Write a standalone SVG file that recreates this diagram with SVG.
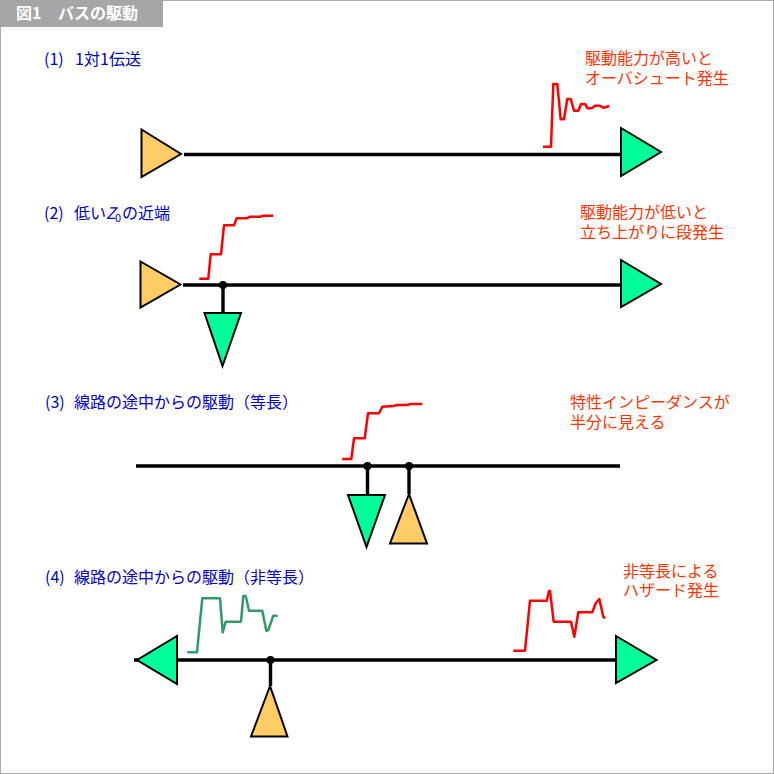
<svg xmlns="http://www.w3.org/2000/svg" width="774" height="774" viewBox="0 0 774 774">
<style>
text{font-family:"Noto Sans CJK JP","DejaVu Sans",sans-serif;font-size:16px}
.h{fill:#0000c0}.r{fill:#ff3300}
.t{font-weight:bold;fill:#fff;font-size:16px}
.b{stroke:#000;stroke-width:3.400;fill:none}
.o{fill:#ffcc66;stroke:#000;stroke-width:2}
.g{fill:#00ff99;stroke:#000;stroke-width:2}
.w{fill:none;stroke:#ff0000;stroke-width:2.500;stroke-linejoin:round}
.w2{fill:none;stroke:#339966;stroke-width:2.500;stroke-linejoin:round}
</style>
<rect x="0.500" y="0.500" width="773" height="773" fill="#fff" stroke="#aaa"/>
<rect x="0" y="0" width="163" height="27" fill="#a6a6a6"/>
<text class="t" x="16" y="19">図1<tspan x="58">バスの駆動</tspan></text>
<g id="labels">
<text class="h" x="44" y="65">(1)<tspan x="75">1</tspan><tspan x="84">対</tspan><tspan x="100">1</tspan><tspan x="109">伝送</tspan></text>
<text class="h" x="44" y="219">(2)<tspan x="74">低い</tspan><tspan x="106" font-style="italic">Z</tspan><tspan x="115" font-size="11" dy="3">0</tspan><tspan x="122" dy="-3">の近端</tspan></text>
<text class="h" x="45" y="408">(3)<tspan x="74">線路の途中からの駆動（等長）</tspan></text>
<text class="h" x="45" y="583">(4)<tspan x="74">線路の途中からの駆動（非等長）</tspan></text>
<text class="r" x="585" y="64">駆動能力が高いと<tspan x="585" y="84">オーバシュート発生</tspan></text>
<text class="r" x="580" y="218">駆動能力が低いと<tspan x="580" y="238">立ち上がりに段発生</tspan></text>
<text class="r" x="570" y="408">特性インピーダンスが<tspan x="570" y="428">半分に見える</tspan></text>
<text class="r" x="623" y="577">非等長による<tspan x="623" y="596">ハザード発生</tspan></text>
</g>
<g id="connectors">
<path class="b" d="M184 154.500H621M183 285H621M223 285V313M136 466H620M367.500 466V495M409 466V494M134 660H616M270.500 660V686"/>
<circle cx="223" cy="285" r="4"/>
<circle cx="367.500" cy="466" r="4"/>
<circle cx="409" cy="466" r="4"/>
<circle cx="270.500" cy="660" r="4"/>
</g>
<g id="waveforms">
<polyline class="w" points="543,146.700 551,146.700 553.300,84 557.300,84 560.700,119.300 564,119.300 567.300,99 570.700,99 574,110.700 578.300,110.700 581,104 585,104 587.700,108.300 591.700,108.300 595,105.700 600,105.700 603.300,107.700 609.300,106"/>
<polyline class="w" points="199.300,278.700 208.300,278.700 210.700,254.300 221,254.300 224,225.300 234,225.300 236.700,218.300 246.700,218.300 250,216.700 260,216.700 263.300,215.700 273.300,215.700"/>
<polyline class="w" points="342.300,459 351.300,459 354,438.300 364.700,438.300 368,413.300 379,413.300 382.300,406.700 393.300,406 396.700,405 407.300,405 410.700,404 422.300,404"/>
<polyline class="w2" points="187.300,652.300 197,652.300 202.300,598.300 220,598.300 222.700,632.300 225.700,621.700 241,621.700 243.300,596 245.700,596 249,610.700 262.300,610.700 266.300,630.700 268.300,630 273.300,615.700 277.700,615.700"/>
<polyline class="w" points="513.300,650.700 525,650.700 530,600.700 546.700,600.700 549,591 550,591 553.700,621.700 571,621.700 574.300,636.700 578.300,612.300 592.300,612.300 595.700,603.300 599.300,599 603.300,616.700 605,618.300"/>
</g>
<g id="n1-driver"><polygon class="o" points="141.500,129.500 181,154 141.500,177"/></g>
<g id="n1-receiver"><polygon class="g" points="621,128 661,152 621,176"/></g>
<g id="n2-driver"><polygon class="o" points="140.500,261.500 180.500,284.500 140.500,307.500"/></g>
<g id="n2-receiver"><polygon class="g" points="621,260 661,284 621,307"/></g>
<g id="n2-stub"><polygon class="g" points="204.500,313 241,313 222.500,366"/></g>
<g id="n3-receiver"><polygon class="g" points="348,495 385,495 366.500,547"/></g>
<g id="n3-driver"><polygon class="o" points="409,494 390,543.500 427,543.500"/></g>
<g id="n4-left"><polygon class="g" points="137,660 177,636 177,684"/></g>
<g id="n4-right"><polygon class="g" points="616,636 656.500,660 616,683"/></g>
<g id="n4-driver"><polygon class="o" points="270,686 251,736.500 287.500,736.500"/></g>
</svg>
